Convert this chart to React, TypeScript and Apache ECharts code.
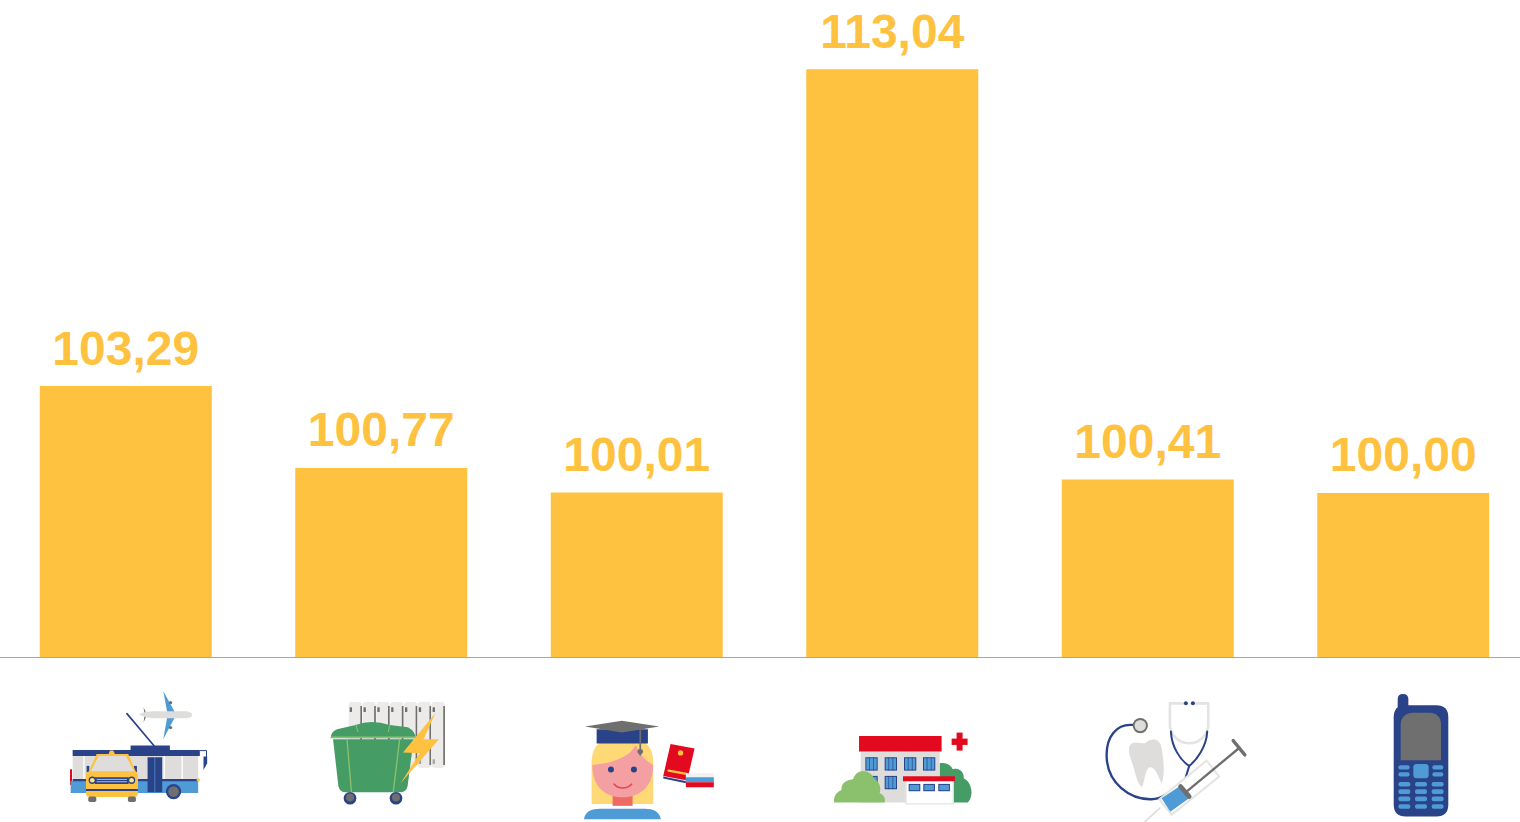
import React, { useEffect, useRef } from "react";
import * as echarts from "echarts";

const categories = ["Транспорт", "ЖКХ", "Образование", "Здравоохранение", "Медицина", "Связь"];
const values = [103.29, 100.77, 100.01, 113.04, 100.41, 100.0];
const axisMin = 94.95;
const axisMax = 115.17;

const YELLOW = "#FEC240";
const NAVY = "#2A4388";
const BLUE = "#4F9BD6";
const GRAY = "#6F6F6F";
const LIGHT = "#DEDDDC";
const RED = "#E30A20";
const GREEN = "#469C65";
const LGREEN = "#8BC16D";

const shapeNames = new Map<string, string>();
function p(d: string, fill: string | null, stroke?: string, lineWidth?: number) {
  let name = shapeNames.get(d);
  if (!name) {
    name = "icon" + shapeNames.size;
    shapeNames.set(d, name);
    echarts.graphic.registerShape(name, echarts.graphic.extendPath(d, {}));
  }
  return {
    type: name,
    style: {
      fill: fill || "none",
      stroke: stroke || "none",
      lineWidth: lineWidth || 0,
      lineCap: "round",
      lineJoin: "round",
    },
  };
}
const r = (x0: number, y0: number, x1: number, y1: number, fill: string) =>
  p(`M${x0},${y0}L${x1},${y0}L${x1},${y1}L${x0},${y1}Z`, fill);
const rr = (x0: number, y0: number, x1: number, y1: number, c: number, fill: string) =>
  p(
    `M${x0 + c},${y0}L${x1 - c},${y0}Q${x1},${y0} ${x1},${y0 + c}L${x1},${y1 - c}Q${x1},${y1} ${x1 - c},${y1}L${x0 + c},${y1}Q${x0},${y1} ${x0},${y1 - c}L${x0},${y0 + c}Q${x0},${y0} ${x0 + c},${y0}Z`,
    fill
  );
const c = (x: number, y: number, rad: number, fill: string) =>
  p(`M${x - rad},${y}A${rad},${rad} 0 1 1 ${x + rad},${y}A${rad},${rad} 0 1 1 ${x - rad},${y}Z`, fill);
const l = (d: string, stroke: string, w: number) => p(d, null, stroke, w);

function busIcon() {
  const items: any[] = [
    l("M231,101L313,198", NAVY, 5),
    // plane
    p("M340,33L375,97L352,97Z", BLUE),
    p("M340,178L375,112L352,112Z", BLUE),
    c(362, 68, 5, GRAY),
    c(362, 143, 5, GRAY),
    p("M281,82L291,104L281,128L284,104Z", GRAY),
    p("M267,104Q285,94 310,94L410,94Q427,98 427,104Q427,112 410,115L310,115Q285,113 267,104Z", LIGHT),
    // bus
    r(60, 268, 66, 315, RED),
    r(68, 228, 445, 298, LIGHT),
    r(100, 228, 104, 298, "#FFFFFF"),
    r(341, 228, 345, 298, "#FFFFFF"),
    r(395, 228, 399, 298, "#FFFFFF"),
    r(62, 303, 445, 339, BLUE),
    r(68, 297, 445, 304, NAVY),
    r(68, 210, 450, 228, NAVY),
    r(242, 197, 360, 213, NAVY),
    r(293, 232, 337, 337, NAVY),
    r(314, 232, 316, 337, BLUE),
    c(371, 335, 23, NAVY),
    c(371, 335, 16, GRAY),
    l("M450,212L470,212L470,232", NAVY, 3),
    p("M461,230L472,230L472,250L461,270Z", NAVY),
    c(445, 300, 5, YELLOW),
    // taxi
    r(110, 258, 118, 278, NAVY),
    r(252, 258, 261, 278, NAVY),
    p("M176,222L180,212L190,212L195,222Z", YELLOW),
    p("M112,285L140,222L235,222L262,285Z", YELLOW),
    p("M122,275L146,228L228,228L252,275Z", LIGHT),
    rr(108, 275, 264, 351, 10, YELLOW),
    r(135, 292, 236, 312, NAVY),
    r(140, 297, 231, 300, "#AEB9D8"),
    r(140, 304, 231, 307, "#AEB9D8"),
    c(127, 301, 11, NAVY),
    c(127, 301, 7, "#FEE08A"),
    c(245, 301, 11, NAVY),
    c(245, 301, 7, "#FEE08A"),
    r(108, 327, 264, 333, NAVY),
    rr(115, 350, 139, 366, 5, GRAY),
    rr(234, 350, 258, 366, 5, GRAY),
  ];
  return items;
}

function binIcon() {
  const items: any[] = [];
  for (let i = 0; i < 7; i++) {
    const x = 897 + i * 41.5;
    items.push(rr(x, 66, x + 40, 264, 10, "#ECEBEA"));
    items.push(r(x + 35, 78, x + 40, 255, GRAY));
    items.push(r(x + 3, 82, x + 10, 96, GRAY));
    items.push(r(x + 3, 238, x + 10, 252, "#A5A5A5"));
  }
  items.push(
    p("M850,178L1092,178L1074,318Q1070,337 1050,337L888,337Q870,337 866,318Z", GREEN),
    p("M843,175Q843,155 862,148L918,135Q965,118 1020,135L1075,142Q1098,155 1098,175Z", GREEN),
    l("M845,172L1096,172", LGREEN, 5),
    l("M892,178L905,335", LGREEN, 4),
    l("M1050,178L1031,335", LGREEN, 4),
    l("M918,135L925,155", LGREEN, 3),
    l("M1020,135L1016,155", LGREEN, 3),
    c(901, 355, 19, NAVY),
    c(901, 353, 12, GRAY),
    c(1039, 355, 19, NAVY),
    c(1039, 353, 12, GRAY),
    p("M1157,100L1060,218L1110,220L1053,310L1168,178L1122,178Z", YELLOW)
  );
  return items;
}

function graduateIcon() {
  return [
    p("M95,372L95,240Q100,170 188,170Q275,170 280,240L280,372Z", "#FED976"),
    r(158, 345, 218, 378, "#EE6B64"),
    p("M97,255C160,250 210,230 228,195C240,225 260,245 280,255C280,320 240,352 188,352C135,352 97,320 97,255Z", "#F4A0A2"),
    c(153, 269, 9, NAVY),
    c(222, 269, 9, NAVY),
    l("M163,313C175,328 200,328 215,313", "#E8425A", 5),
    p("M72,418C75,395 95,387 120,387L255,387C280,387 298,395 303,418Z", BLUE),
    r(110, 148, 264, 191, NAVY),
    p("M75,140L186,122L298,140L186,158Z", GRAY),
    l("M241,150L241,208", GRAY, 5),
    p("M235,208L247,208L250,216L241,228L232,216Z", GRAY),
    p("M310,290L380,304L378,310L310,296Z", NAVY),
    p("M332,192L404,206L382,302L310,288Z", RED),
    c(362, 219, 8, YELLOW),
    l("M326,272L380,282", YELLOW, 7),
    r(378, 280, 462, 323, "#F1F1F1"),
    r(378, 292, 462, 307, BLUE),
    r(378, 307, 462, 322, RED),
  ];
}

function hospitalIcon() {
  const items: any[] = [
    p("M1140,250C1165,245 1175,260 1180,268C1200,262 1215,280 1212,295C1235,305 1245,345 1225,368L1140,368Z", GREEN),
    r(903, 215, 1140, 368, LIGHT),
    r(898, 168, 1146, 215, RED),
    r(1191, 158, 1209, 212, RED),
    r(1176, 176, 1224, 195, RED),
  ];
  const win = (x: number, y: number, w: number, h: number, bars: number) => {
    items.push(r(x, y, x + w, y + h, NAVY));
    items.push(r(x + 3, y + 3, x + w - 3, y + h - 3, BLUE));
    for (let i = 1; i < bars; i++) {
      const bx = x + (w * i) / bars;
      items.push(r(bx - 1, y, bx + 1, y + h, NAVY));
    }
  };
  [917, 975, 1033, 1090].forEach((x) => win(x, 232, 37, 40, 3));
  [917, 975].forEach((x) => win(x, 288, 37, 40, 3));
  items.push(
    r(1037, 298, 1183, 374, "#E5E4E3"),
    r(1041, 300, 1179, 370, "#FFFFFF"),
    r(1030, 289, 1186, 304, RED)
  );
  [1047, 1091, 1136].forEach((x) => win(x, 312, 35, 22, 1));
  items.push(
    p("M823,368C820,345 835,335 845,330C845,305 865,300 880,298C890,265 930,265 945,298C960,305 965,325 960,340C975,345 978,360 975,368Z", LGREEN)
  );
  return items;
}

function medicalIcon() {
  return [
    l("M130,135C80,130 48,170 50,230C52,310 120,360 185,358C200,358 215,352 225,345", NAVY, 7),
    c(151, 137, 23, GRAY),
    c(151, 137, 17, LIGHT),
    p("M118,200C125,180 150,190 165,190C180,175 210,170 215,205C222,240 225,290 215,310C205,290 195,260 180,262C165,265 165,310 155,322C140,310 135,270 125,245C120,230 115,215 118,200Z", LIGHT),
    l("M280,70L240,70L240,140C245,170 270,190 298,190C325,190 350,170 355,140L355,70L316,70", "#E5E4E3", 8),
    c(288, 70, 6, NAVY),
    c(309, 70, 6, NAVY),
    l("M243,155C245,200 270,240 298,258C320,240 350,200 352,155", NAVY, 6),
    l("M298,258L285,300", NAVY, 6),
    l("M210,385L165,425", LIGHT, 5),
    p("M350,242L388,290L245,405L208,358Z", "#FFFFFF", "#E5E4E3", 6),
    l("M447,205L290,335", GRAY, 7),
    l("M430,182L465,225", GRAY, 10),
    p("M215,355L268,320L302,352L241,396Z", BLUE),
    l("M272,320L298,350", GRAY, 14),
  ];
}

function phoneIcon() {
  const items: any[] = [
    rr(924, 42, 956, 110, 16, NAVY),
    rr(912, 76, 1076, 410, 36, NAVY),
    p("M933,241L933,132C933,112 950,98 970,98L1020,98C1040,98 1054,112 1054,132L1054,241Z", GRAY),
    rr(971, 252, 1017, 295, 10, BLUE),
  ];
  [256, 277].forEach((y) => {
    items.push(rr(926, y, 960, y + 13, 6, BLUE));
    items.push(rr(1028, y, 1061, y + 13, 6, BLUE));
  });
  [306, 328, 350, 373].forEach((y) => {
    [926, 976, 1026].forEach((x) => items.push(rr(x, y, x + 36, y + 14, 6, BLUE)));
  });
  return items;
}

const group = (x: number, y: number, children: any[]) => ({
  type: "group",
  x,
  y,
  scaleX: 1 / 3,
  scaleY: 1 / 3,
  silent: true,
  children,
});

export default function App() {
  const ref = useRef<HTMLDivElement>(null);
  useEffect(() => {
    const chart = echarts.init(ref.current!, null, { renderer: "svg" });
    chart.setOption({
      animation: false,
      backgroundColor: "#FFFFFF",
      grid: { left: -2, right: -11, top: 0, height: 657, outerBoundsMode: "none" },
      xAxis: {
        type: "category",
        data: categories,
        axisLine: { show: true, lineStyle: { color: "#A6A6A6", width: 1 } },
        axisTick: { show: false },
        axisLabel: { show: false },
      },
      yAxis: { type: "value", min: axisMin, max: axisMax, show: false, splitLine: { show: false } },
      series: [
        {
          type: "bar",
          data: values,
          barWidth: 172,
          itemStyle: { color: YELLOW },
          label: {
            show: true,
            position: "top",
            distance: 14,
            color: YELLOW,
            fontFamily: "'Liberation Sans', Arial, sans-serif",
            fontWeight: "bold",
            fontSize: 48,
            formatter: (o: any) => o.value.toFixed(2).replace(".", ","),
          },
        },
      ],
      graphic: {
        elements: [
          group(50, 680, [...busIcon(), ...binIcon()]),
          group(560, 680, [...graduateIcon(), ...hospitalIcon()]),
          group(1090, 680, [...medicalIcon(), ...phoneIcon()]),
        ],
      },
    });
    return () => chart.dispose();
  }, []);
  return (
    <div
      ref={ref}
      style={{ position: "fixed", left: 0, top: 0, width: 1520, height: 822 }}
    />
  );
}
